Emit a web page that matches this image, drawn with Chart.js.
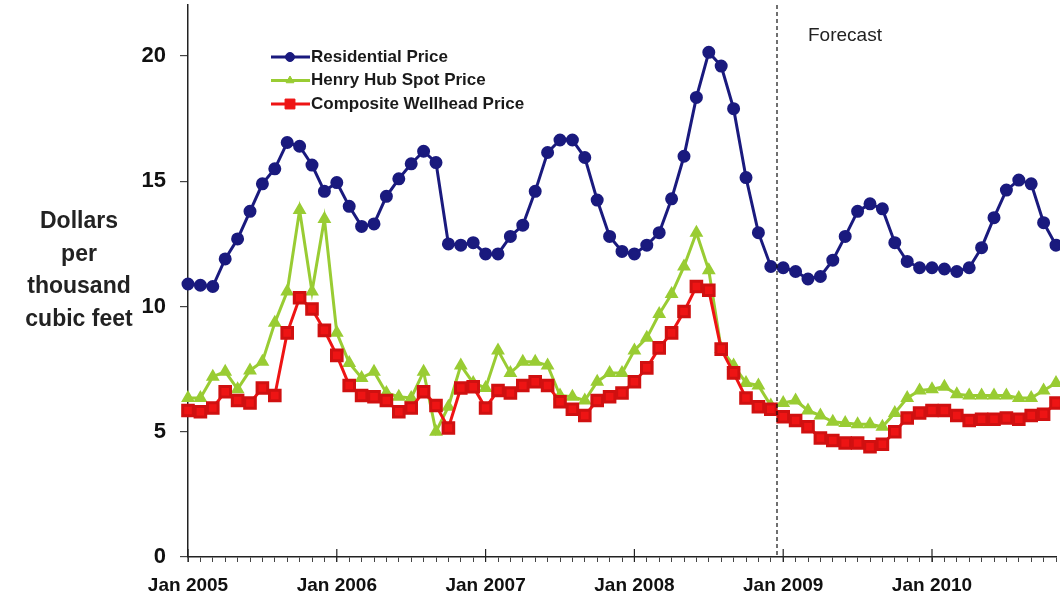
<!DOCTYPE html>
<html>
<head>
<meta charset="utf-8">
<script src="https://cdn.jsdelivr.net/npm/chart.js@4.4.1/dist/chart.umd.min.js"></script>
<style>
  html, body { margin: 0; padding: 0; background: #fff; }
  #wrap { width: 1060px; height: 601px; position: relative; }
</style>
</head>
<body>
<div id="wrap"><canvas id="grafico"></canvas></div>
<script>
// Dados mensais, Jan 2005 ate Nov 2010
const meses = ['Jan','Feb','Mar','Apr','May','Jun','Jul','Aug','Sep','Oct','Nov','Dec'];
const anos = [2005, 2006, 2007, 2008, 2009, 2010];

const residencial = [
  10.9, 10.85, 10.8, 11.9, 12.7, 13.8, 14.9, 15.5, 16.55, 16.4, 15.65, 14.6,
  14.95, 14.0, 13.2, 13.3, 14.4, 15.1, 15.7, 16.2, 15.75, 12.5, 12.45, 12.55,
  12.1, 12.1, 12.8, 13.25, 14.6, 16.15, 16.65, 16.65, 15.95, 14.25, 12.8, 12.2,
  12.1, 12.45, 12.95, 14.3, 16.0, 18.35, 20.15, 19.6, 17.9, 15.15, 12.95, 11.6,
  11.55, 11.4, 11.1, 11.2, 11.85, 12.8, 13.8, 14.1, 13.9, 12.55, 11.8, 11.55,
  11.55, 11.5, 11.4, 11.55, 12.35, 13.55, 14.65, 15.05, 14.9, 13.35, 12.45
];
const henryHub = [
  6.35, 6.35, 7.2, 7.4, 6.7, 7.45, 7.8, 9.35, 10.6, 13.85, 10.6, 13.5,
  8.95, 7.75, 7.15, 7.4, 6.55, 6.4, 6.35, 7.4, 5.0, 6.0, 7.65, 6.95,
  6.75, 8.25, 7.35, 7.8, 7.8, 7.65, 6.45, 6.4, 6.25, 7.0, 7.35, 7.35,
  8.25, 8.75, 9.7, 10.5, 11.6, 12.95, 11.45, 8.3, 7.65, 6.95, 6.85, 6.05,
  6.15, 6.25, 5.85, 5.65, 5.4, 5.35, 5.3, 5.3, 5.2, 5.75, 6.35, 6.65,
  6.7, 6.8, 6.5, 6.45, 6.45, 6.45, 6.45, 6.35, 6.35, 6.65, 6.95
];
const wellhead = [
  5.85, 5.8, 5.95, 6.6, 6.25, 6.15, 6.75, 6.45, 8.95, 10.35, 9.9, 9.05,
  8.05, 6.85, 6.45, 6.4, 6.25, 5.8, 5.95, 6.6, 6.05, 5.15, 6.75, 6.8,
  5.95, 6.65, 6.55, 6.85, 7.0, 6.85, 6.2, 5.9, 5.65, 6.25, 6.4, 6.55,
  7.0, 7.55, 8.35, 8.95, 9.8, 10.8, 10.65, 8.3, 7.35, 6.35, 6.0, 5.9,
  5.6, 5.45, 5.2, 4.75, 4.65, 4.55, 4.55, 4.4, 4.5, 5.0, 5.55, 5.75,
  5.85, 5.85, 5.65, 5.45, 5.5, 5.5, 5.55, 5.5, 5.65, 5.7, 6.15
];
const yTicks = [0, 5, 10, 15, 20];
const inicioPrevisao = 47.5;   // entre Dec 2008 e Jan 2009
const rotuloEixoY = ['Dollars', 'per', 'thousand', 'cubic feet'];

const rotulos = anos.flatMap(a => meses.map(m => m + ' ' + a)).slice(0, residencial.length);

const AZUL = '#1a1a7e';
const VERDE = '#99cc33';
const VERMELHO = '#ee1414';
const FONTE = '"Liberation Sans", Arial, sans-serif';

// Título do eixo Y, linha de previsão, ticks maiores e legenda
const extras = {
  id: 'extras',
  afterDraw(chart) {
    const { ctx, chartArea, scales } = chart;
    const x = scales.x;
    ctx.save();

    // linha tracejada da previsao
    const px = x.getPixelForValue(inicioPrevisao);
    ctx.strokeStyle = '#111';
    ctx.lineWidth = 1.2;
    ctx.setLineDash([4, 3]);
    ctx.beginPath();
    ctx.moveTo(px, chartArea.top);
    ctx.lineTo(px, chartArea.bottom);
    ctx.stroke();
    ctx.setLineDash([]);

    ctx.fillStyle = '#222';
    ctx.font = '19px ' + FONTE;
    ctx.textAlign = 'left';
    ctx.textBaseline = 'middle';
    ctx.fillText('Forecast', px + 31, 36);

    // ticks de janeiro
    ctx.strokeStyle = '#222';
    ctx.lineWidth = 1.2;
    rotulos.forEach((r, i) => {
      if (!r.startsWith('Jan')) return;
      const tx = x.getPixelForValue(i);
      ctx.beginPath();
      ctx.moveTo(tx, chartArea.bottom - 8);
      ctx.lineTo(tx, chartArea.bottom + 5);
      ctx.stroke();
    });

    // titulo do eixo Y
    ctx.fillStyle = '#222';
    ctx.font = 'bold 23px ' + FONTE;
    ctx.textAlign = 'center';
    rotuloEixoY.forEach((t, i) => ctx.fillText(t, 79, 222 + i * 32.5));

    // legenda
    ctx.font = 'bold 17px ' + FONTE;
    ctx.textAlign = 'left';
    chart.data.datasets.forEach((ds, i) => {
      const ly = 57 + i * 23.5;
      ctx.strokeStyle = ds.borderColor;
      ctx.lineWidth = 3;
      ctx.beginPath();
      ctx.moveTo(271, ly);
      ctx.lineTo(310, ly);
      ctx.stroke();
      ctx.fillStyle = ds.pointBackgroundColor;
      ctx.strokeStyle = ds.borderColor;
      ctx.lineWidth = 1;
      Chart.helpers.drawPoint(ctx, {
        pointStyle: ds.pointStyle, radius: ds.pointRadius - 0.5, rotation: 0, borderWidth: 1
      }, 290, ly);
      ctx.fillStyle = '#1a1a1a';
      ctx.fillText(ds.label, 311, ly);
    });
    ctx.restore();
  }
};

new Chart(document.getElementById('grafico'), {
  type: 'line',
  data: {
    labels: rotulos,
    datasets: [{
      label: 'Residential Price',
      data: residencial,
      borderColor: AZUL,
      backgroundColor: AZUL,
      pointBackgroundColor: AZUL,
      pointBorderColor: AZUL,
      pointStyle: 'circle',
      pointRadius: 5,
      borderWidth: 3,
      order: 0,
      clip: false
    }, {
      label: 'Henry Hub Spot Price',
      data: henryHub,
      borderColor: VERDE,
      backgroundColor: VERDE,
      pointBackgroundColor: VERDE,
      pointBorderColor: VERDE,
      pointStyle: 'triangle',
      pointRadius: 5,
      borderWidth: 3,
      order: 2,
      clip: false
    }, {
      label: 'Composite Wellhead Price',
      data: wellhead,
      borderColor: VERMELHO,
      backgroundColor: VERMELHO,
      pointBackgroundColor: VERMELHO,
      pointBorderColor: '#d01010',
      pointStyle: 'rect',
      pointRadius: 7.5,
      borderWidth: 3,
      order: 1,
      clip: false
    }]
  },
  options: {
    responsive: true,
    maintainAspectRatio: false,
    animation: false,
    events: [],
    layout: { autoPadding: false, padding: { top: 5, right: 4, bottom: 0, left: 0 } },
    elements: { line: { tension: 0 } },
    plugins: {
      legend: { display: false },
      tooltip: { enabled: false }
    },
    scales: {
      x: {
        type: 'category',
        offset: false,
        afterFit: s => { s.height = 44; s.paddingLeft = 0; s.paddingRight = 0; },
        border: { display: true, color: '#222', width: 1.5 },
        grid: { display: true, drawOnChartArea: false, tickLength: 5, color: '#444', lineWidth: 1 },
        ticks: {
          autoSkip: false,
          maxRotation: 0,
          padding: 12,
          color: '#111',
          font: { family: FONTE, size: 19, weight: 'bold' },
          callback(v) {
            const l = this.getLabelForValue(v);
            return l.startsWith('Jan') ? l : '';
          }
        }
      },
      y: {
        min: 0,
        max: 22.04,
        afterFit: s => { s.width = 188; s.paddingTop = 0; s.paddingBottom = 0; },
        afterBuildTicks: s => { s.ticks = yTicks.map(v => ({ value: v })); },
        border: { display: true, color: '#222', width: 1.5 },
        grid: { display: true, drawOnChartArea: false, tickLength: 8, color: '#444', lineWidth: 1.2 },
        ticks: {
          padding: 14,
          color: '#111',
          font: { family: FONTE, size: 22, weight: 'bold' }
        }
      }
    }
  },
  plugins: [extras]
});
</script>
</body>
</html>
